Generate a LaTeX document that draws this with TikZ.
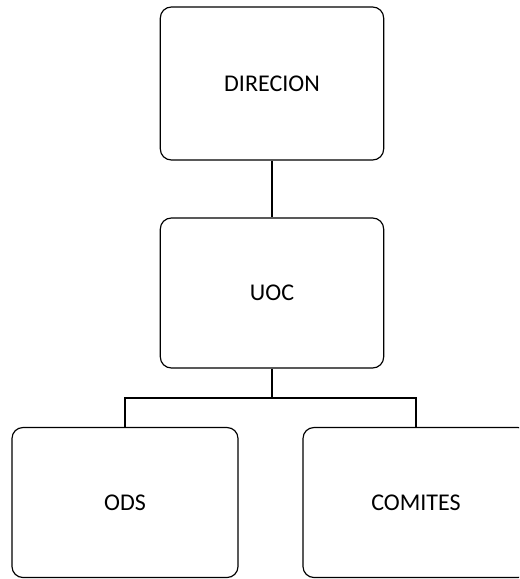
\documentclass[tikz,border=0pt]{standalone}
\usepackage{fontspec}
\setmainfont{Carlito}
\usepackage{tikz}
\usetikzlibrary{
    arrows.meta,
    positioning
}

\begin{document}
\begin{tikzpicture}[
        x=0.03cm, y=-0.03cm,
        unit/.style={
            rectangle,
            draw,
            line width=1pt,
            rounded corners=0.33cm,
            minimum width=6.7cm,
            minimum height=4.5cm,
            font=\fontsize{20.5}{24}\selectfont
        },
        link/.style={line width=0.9pt}
    ]
        \clip (0,0) rectangle (519,579);
        \node[unit, minimum height=4.59cm] (dir) at (272,83.5) {DIRECION};
        \node[unit] (uoc) at (272,293) {UOC};
        \node[unit, minimum width=6.78cm] (ods) at (125,502.5) {ODS};
        \node[unit, minimum width=6.78cm] (com) at (416,502.5) {COMITES};
        \coordinate (split) at (272,398);
        \draw[link] (dir) -- (uoc);
        \draw[link] (uoc) -- (split);
        \draw[link] (ods.north) |- (split) -| (com.north);
    \end{tikzpicture}
\end{document}
